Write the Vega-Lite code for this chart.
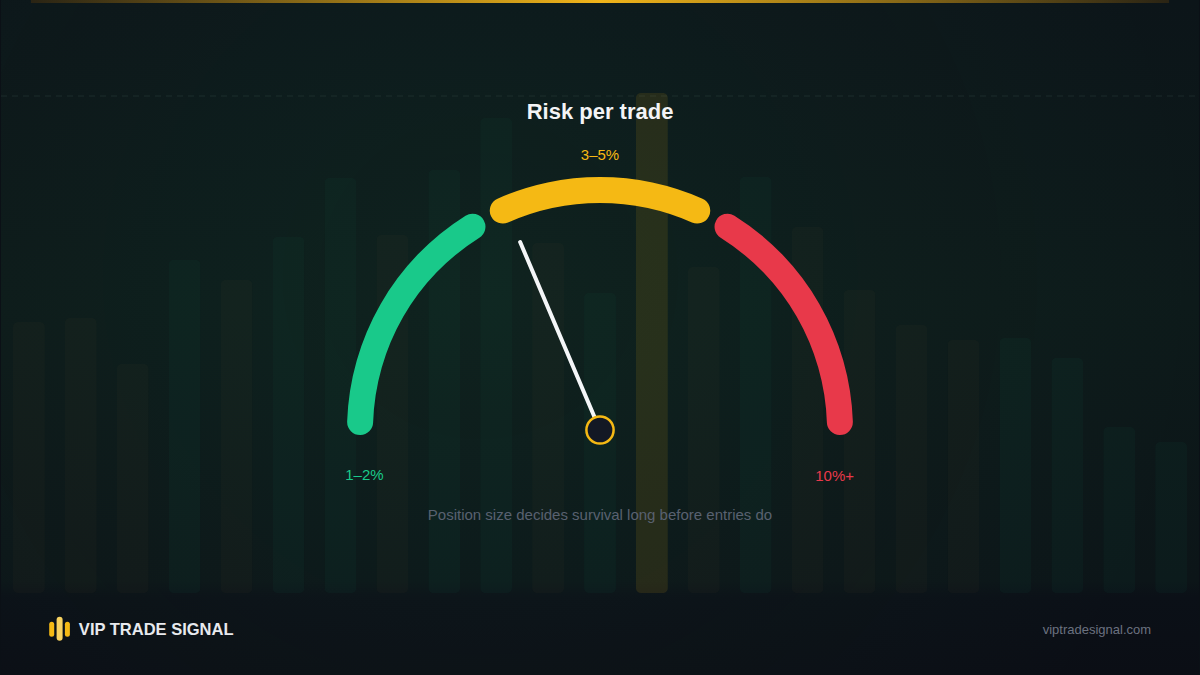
{
  "$schema": "https://vega.github.io/schema/vega-lite/v6.json",
  "width": 1200,
  "height": 675,
  "autosize": {"type": "fit", "contains": "padding"},
  "padding": 0,
  "background": "#0b1016",
  "config": {
    "view": {"stroke": null},
    "text": {"font": "Liberation Sans"}
  },
  "datasets": {
    "bars": [
      {"i": 1, "h": 271, "tone": "down"},
      {"i": 2, "h": 275, "tone": "down"},
      {"i": 3, "h": 229, "tone": "down"},
      {"i": 4, "h": 333, "tone": "up"},
      {"i": 5, "h": 313, "tone": "down"},
      {"i": 6, "h": 356, "tone": "up"},
      {"i": 7, "h": 415, "tone": "up"},
      {"i": 8, "h": 358, "tone": "down"},
      {"i": 9, "h": 423, "tone": "up"},
      {"i": 10, "h": 475, "tone": "up"},
      {"i": 11, "h": 350, "tone": "down"},
      {"i": 12, "h": 300, "tone": "up"},
      {"i": 13, "h": 500, "tone": "hl"},
      {"i": 14, "h": 326, "tone": "down"},
      {"i": 15, "h": 416, "tone": "up"},
      {"i": 16, "h": 366, "tone": "down"},
      {"i": 17, "h": 303, "tone": "down"},
      {"i": 18, "h": 268, "tone": "down"},
      {"i": 19, "h": 253, "tone": "down"},
      {"i": 20, "h": 255, "tone": "up"},
      {"i": 21, "h": 235, "tone": "up"},
      {"i": 22, "h": 166, "tone": "up"},
      {"i": 23, "h": 151, "tone": "up"}
    ],
    "zones": [
      {"zone": "1–2%", "from": -1.2, "to": 61},
      {"zone": "3–5%", "from": 63, "to": 117},
      {"zone": "10%+", "from": 119, "to": 181.2}
    ],
    "texts": [
      {"role": "title", "text": "Risk per trade"},
      {"role": "note", "text": "Position size decides survival long before entries do"},
      {"role": "brand", "text": "VIP TRADE SIGNAL"},
      {"role": "site", "text": "viptradesignal.com"}
    ],
    "needle": [{"reading": "3–5%"}]
  },
  "resolve": {"scale": {"x": "independent", "y": "independent", "color": "independent"}},
  "layer": [
    {
      "data": {"values": [{"panel": "backdrop"}]},
      "encoding": {
        "x": {"datum": -6, "type": "quantitative", "scale": {"domain": [-6, 6], "nice": false, "zero": false}, "axis": null},
        "y": {"datum": -2.45, "type": "quantitative", "scale": {"domain": [-2.45, 4.3], "nice": false, "zero": false}, "axis": null}
      },
      "layer": [
        {
          "mark": {
            "type": "rect",
            "color": {
              "gradient": "linear", "x1": 0, "y1": 0, "x2": 0, "y2": 1,
              "stops": [
                {"offset": 0, "color": "#0c1519"},
                {"offset": 0.45, "color": "#0d1a1a"},
                {"offset": 0.86, "color": "#0c1518"},
                {"offset": 0.885, "color": "#0b1017"},
                {"offset": 1, "color": "#0b0e15"}
              ]
            }
          },
          "encoding": {"x2": {"datum": 6}, "y2": {"datum": 4.3}}
        },
        {
          "mark": {
            "type": "rect",
            "color": {
              "gradient": "radial", "x1": 0.4, "y1": 0.45, "r1": 0, "x2": 0.4, "y2": 0.45, "r2": 0.6,
              "stops": [
                {"offset": 0, "color": "rgba(40,140,90,0.08)"},
                {"offset": 1, "color": "rgba(40,140,90,0)"}
              ]
            }
          },
          "encoding": {"x2": {"datum": 6}, "y2": {"datum": 4.3}}
        },
        {
          "mark": {"type": "rule", "strokeDash": [6, 5], "strokeWidth": 1, "color": "rgba(120,160,140,0.14)"},
          "encoding": {"y": {"datum": 3.34, "type": "quantitative"}, "x2": {"datum": 6}}
        },
        {
          "mark": {
            "type": "rect",
            "color": {
              "gradient": "linear", "x1": 0, "y1": 0, "x2": 1, "y2": 0,
              "stops": [
                {"offset": 0, "color": "#2a2414"},
                {"offset": 0.5, "color": "#f0b41a"},
                {"offset": 1, "color": "#2a2414"}
              ]
            }
          },
          "encoding": {
            "x": {"datum": -5.7, "type": "quantitative"},
            "x2": {"datum": 5.7},
            "y": {"datum": 4.27, "type": "quantitative"},
            "y2": {"datum": 4.3}
          }
        }
      ]
    },
    {
      "data": {"name": "bars"},
      "mark": {"type": "bar", "cornerRadius": 5},
      "encoding": {
        "x": {"field": "i", "type": "ordinal", "scale": {"paddingInner": 0.385, "paddingOuter": 0.23}, "axis": null},
        "y": {"field": "h", "type": "quantitative", "scale": {"domain": [-82, 593], "nice": false}, "axis": null},
        "color": {
          "field": "tone", "type": "nominal", "legend": null,
          "scale": {"domain": ["up", "down", "hl"], "range": ["rgba(30,200,140,0.035)", "rgba(200,120,60,0.03)", "rgba(245,185,20,0.11)"]}
        }
      }
    },
    {
      "encoding": {
        "x": {"datum": 0, "type": "quantitative", "scale": {"domain": [-6, 6], "nice": false, "zero": false}, "axis": null},
        "y": {"datum": 0, "type": "quantitative", "scale": {"domain": [-2.45, 4.3], "nice": false, "zero": false}, "axis": null}
      },
      "layer": [
        {
          "data": {"name": "zones"},
          "mark": {"type": "arc", "radius": 253, "radius2": 227, "cornerRadius": 13},
          "encoding": {
            "theta": {"field": "from", "type": "quantitative", "scale": {"domain": [0, 180], "range": [-1.5708, 1.5708]}, "stack": null},
            "theta2": {"field": "to"},
            "color": {
              "field": "zone", "type": "nominal", "legend": null,
              "scale": {"domain": ["1–2%", "3–5%", "10%+"], "range": ["#19c98a", "#f5b914", "#e8394a"]}
            }
          }
        },
        {
          "data": {"name": "needle"},
          "mark": {"type": "rule", "strokeWidth": 4, "strokeCap": "round", "color": "#f4f6f8"},
          "encoding": {"x2": {"datum": -0.8}, "y2": {"datum": 1.88}}
        },
        {
          "data": {"name": "needle"},
          "mark": {"type": "circle", "size": 740, "color": "#131824", "opacity": 1, "stroke": "#f5b914", "strokeWidth": 2.5}
        },
        {
          "data": {"name": "zones"},
          "transform": [{"filter": "datum.zone === '3–5%'"}],
          "mark": {"type": "text", "fontSize": 15, "color": "#f5b914", "baseline": "middle"},
          "encoding": {"y": {"datum": 2.75, "type": "quantitative"}, "text": {"field": "zone"}}
        },
        {
          "data": {"name": "zones"},
          "transform": [{"filter": "datum.zone === '1–2%'"}],
          "mark": {"type": "text", "fontSize": 15, "color": "#19c98a", "baseline": "middle"},
          "encoding": {"x": {"datum": -2.36, "type": "quantitative"}, "y": {"datum": -0.45, "type": "quantitative"}, "text": {"field": "zone"}}
        },
        {
          "data": {"name": "zones"},
          "transform": [{"filter": "datum.zone === '10%+'"}],
          "mark": {"type": "text", "fontSize": 15, "color": "#e8394a", "baseline": "middle"},
          "encoding": {"x": {"datum": 2.35, "type": "quantitative"}, "y": {"datum": -0.46, "type": "quantitative"}, "text": {"field": "zone"}}
        },
        {
          "data": {"name": "texts"},
          "transform": [{"filter": "datum.role === 'title'"}],
          "mark": {"type": "text", "fontSize": 22, "fontWeight": "bold", "color": "#f3f4f6", "baseline": "middle"},
          "encoding": {"y": {"datum": 3.18, "type": "quantitative"}, "text": {"field": "text"}}
        },
        {
          "data": {"name": "texts"},
          "transform": [{"filter": "datum.role === 'note'"}],
          "mark": {"type": "text", "fontSize": 15, "color": "#596170", "baseline": "middle"},
          "encoding": {"y": {"datum": -0.85, "type": "quantitative"}, "text": {"field": "text"}}
        },
        {
          "data": {"name": "texts"},
          "transform": [{"filter": "datum.role === 'brand'"}],
          "mark": {"type": "text", "fontSize": 16.5, "fontWeight": "bold", "color": "#e8eaee", "baseline": "middle", "align": "left"},
          "encoding": {"x": {"datum": -5.22, "type": "quantitative"}, "y": {"datum": -2.0, "type": "quantitative"}, "text": {"field": "text"}}
        },
        {
          "data": {"name": "texts"},
          "transform": [{"filter": "datum.role === 'site'"}],
          "mark": {"type": "text", "fontSize": 13, "color": "#6b7280", "baseline": "middle", "align": "right"},
          "encoding": {"x": {"datum": 5.52, "type": "quantitative"}, "y": {"datum": -2.0, "type": "quantitative"}, "text": {"field": "text"}}
        },
        {
          "data": {"name": "needle"},
          "mark": {"type": "rule", "strokeWidth": 5, "strokeCap": "round", "color": "#f5b914"},
          "encoding": {"x": {"datum": -5.492, "type": "quantitative"}, "y": {"datum": -1.942, "type": "quantitative"}, "y2": {"datum": -2.042}}
        },
        {
          "data": {"name": "needle"},
          "mark": {"type": "rule", "strokeWidth": 6, "strokeCap": "round", "color": "#f8d260"},
          "encoding": {"x": {"datum": -5.413, "type": "quantitative"}, "y": {"datum": -1.897, "type": "quantitative"}, "y2": {"datum": -2.077}}
        },
        {
          "data": {"name": "needle"},
          "mark": {"type": "rule", "strokeWidth": 5, "strokeCap": "round", "color": "#f5b914"},
          "encoding": {"x": {"datum": -5.335, "type": "quantitative"}, "y": {"datum": -1.942, "type": "quantitative"}, "y2": {"datum": -2.042}}
        }
      ]
    }
  ]
}
